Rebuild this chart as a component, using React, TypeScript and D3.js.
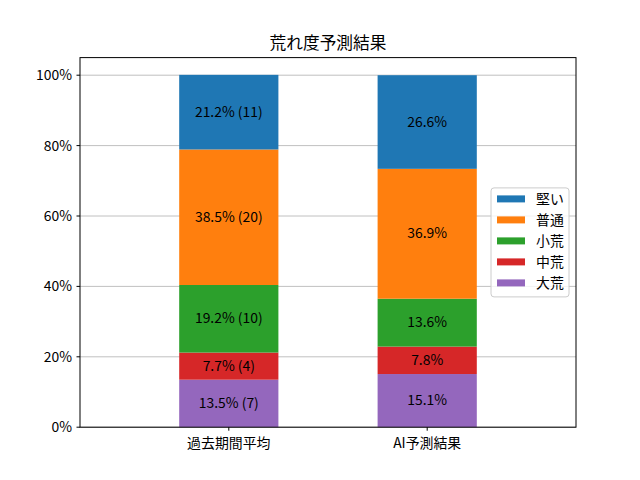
import React, { useEffect, useRef } from 'react';
import * as d3 from 'd3';

const categories = ['過去期間平均', 'AI予測結果'];
const levels = ['大荒', '中荒', '小荒', '普通', '堅い'];
const colors = ['#9467bd', '#d62728', '#2ca02c', '#ff7f0e', '#1f77b4'];
// percent per level (bottom -> top), per category
const pastPct = [13.5, 7.7, 19.2, 38.5, 21.2];
const pastCount = [7, 4, 10, 20, 11];
const aiPct = [15.1, 7.8, 13.6, 36.9, 26.6];
const yTicks = [0, 20, 40, 60, 80, 100];

const FONT = '"Noto Sans CJK JP", "DejaVu Sans", sans-serif';

export default function App() {
  const svgRef = useRef<SVGSVGElement>(null);

  useEffect(() => {
    if (!svgRef.current) return;
    const svg = d3.select(svgRef.current);
    svg.selectAll('*').remove();

    const W = 640, H = 480;
    const margin = { top: 57.6, right: 64, bottom: 52.8, left: 80 };
    const width = W - margin.left - margin.right;
    const height = H - margin.top - margin.bottom;

    svg.append('rect').attr('width', W).attr('height', H).attr('fill', '#fff');

    const g = svg.append('g').attr('transform', `translate(${margin.left},${margin.top})`);

    const x = d3.scaleLinear().domain([-0.75, 1.75]).range([0, width]);
    const y = d3.scaleLinear().domain([0, 105]).range([height, 0]);
    const barW = x(0.5) - x(0);

    // grid
    g.selectAll('.grid')
      .data(yTicks)
      .enter()
      .append('line')
      .attr('x1', 0)
      .attr('x2', width)
      .attr('y1', d => y(d))
      .attr('y2', d => y(d))
      .attr('stroke', '#b0b0b0')
      .attr('stroke-width', 0.8);

    const series = [
      { pct: pastPct, labels: pastPct.map((p, i) => `${p.toFixed(1)}% (${pastCount[i]})`) },
      { pct: aiPct, labels: aiPct.map(p => `${p.toFixed(1)}%`) },
    ];

    series.forEach((s, ci) => {
      let base = 0;
      s.pct.forEach((v, li) => {
        const y0 = y(base);
        const y1 = y(base + v);
        g.append('rect')
          .attr('x', x(ci) - barW / 2)
          .attr('y', y1)
          .attr('width', barW)
          .attr('height', y0 - y1)
          .attr('fill', colors[li]);
        g.append('text')
          .attr('x', x(ci))
          .attr('y', (y0 + y1) / 2 - 1.5)
          .attr('text-anchor', 'middle')
          .attr('dominant-baseline', 'central')
          .attr('font-family', FONT)
          .attr('font-size', 13.9)
          .attr('fill', '#000')
          .text(s.labels[li]);
        base += v;
      });
    });

    // frame
    g.append('rect')
      .attr('width', width)
      .attr('height', height)
      .attr('fill', 'none')
      .attr('stroke', '#000')
      .attr('stroke-width', 1);

    // y ticks
    yTicks.forEach(t => {
      g.append('line')
        .attr('x1', -3.5).attr('x2', 0)
        .attr('y1', y(t)).attr('y2', y(t))
        .attr('stroke', '#000');
      g.append('text')
        .attr('x', -8)
        .attr('y', y(t) - 1)
        .attr('text-anchor', 'end')
        .attr('dominant-baseline', 'central')
        .attr('font-family', FONT)
        .attr('font-size', 13.9)
        .text(`${t}%`);
    });

    // x ticks
    categories.forEach((c, i) => {
      g.append('line')
        .attr('x1', x(i)).attr('x2', x(i))
        .attr('y1', height).attr('y2', height + 3.5)
        .attr('stroke', '#000');
      g.append('text')
        .attr('x', x(i))
        .attr('y', height + 14.5)
        .attr('text-anchor', 'middle')
        .attr('dominant-baseline', 'central')
        .attr('font-family', FONT)
        .attr('font-size', 13.9)
        .text(c);
    });

    // title
    g.append('text')
      .attr('x', width / 2)
      .attr('y', -9)
      .attr('text-anchor', 'middle')
      .attr('font-family', FONT)
      .attr('font-size', 16.7)
      .text('荒れ度予測結果');

    // legend (top entry = top of stack)
    const legW = 78, legH = 109;
    const leg = g.append('g').attr('transform', `translate(${width - legW - 7},${height / 2 - legH / 2})`);
    leg.append('rect')
      .attr('width', legW)
      .attr('height', legH)
      .attr('rx', 3)
      .attr('fill', '#fff')
      .attr('fill-opacity', 0.8)
      .attr('stroke', '#cccccc');
    const entries = levels.map((l, i) => ({ l, c: colors[i] })).reverse();
    entries.forEach((e, i) => {
      const cy = 11 + i * 21;
      leg.append('rect')
        .attr('x', 6).attr('y', cy - 3.5)
        .attr('width', 28).attr('height', 7)
        .attr('fill', e.c);
      leg.append('text')
        .attr('x', 45).attr('y', cy - 1)
        .attr('dominant-baseline', 'central')
        .attr('font-family', FONT)
        .attr('font-size', 13.9)
        .text(e.l);
    });
  }, []);

  return <svg ref={svgRef} width={640} height={480} style={{ display: 'block', margin: -8 }} />;
}
